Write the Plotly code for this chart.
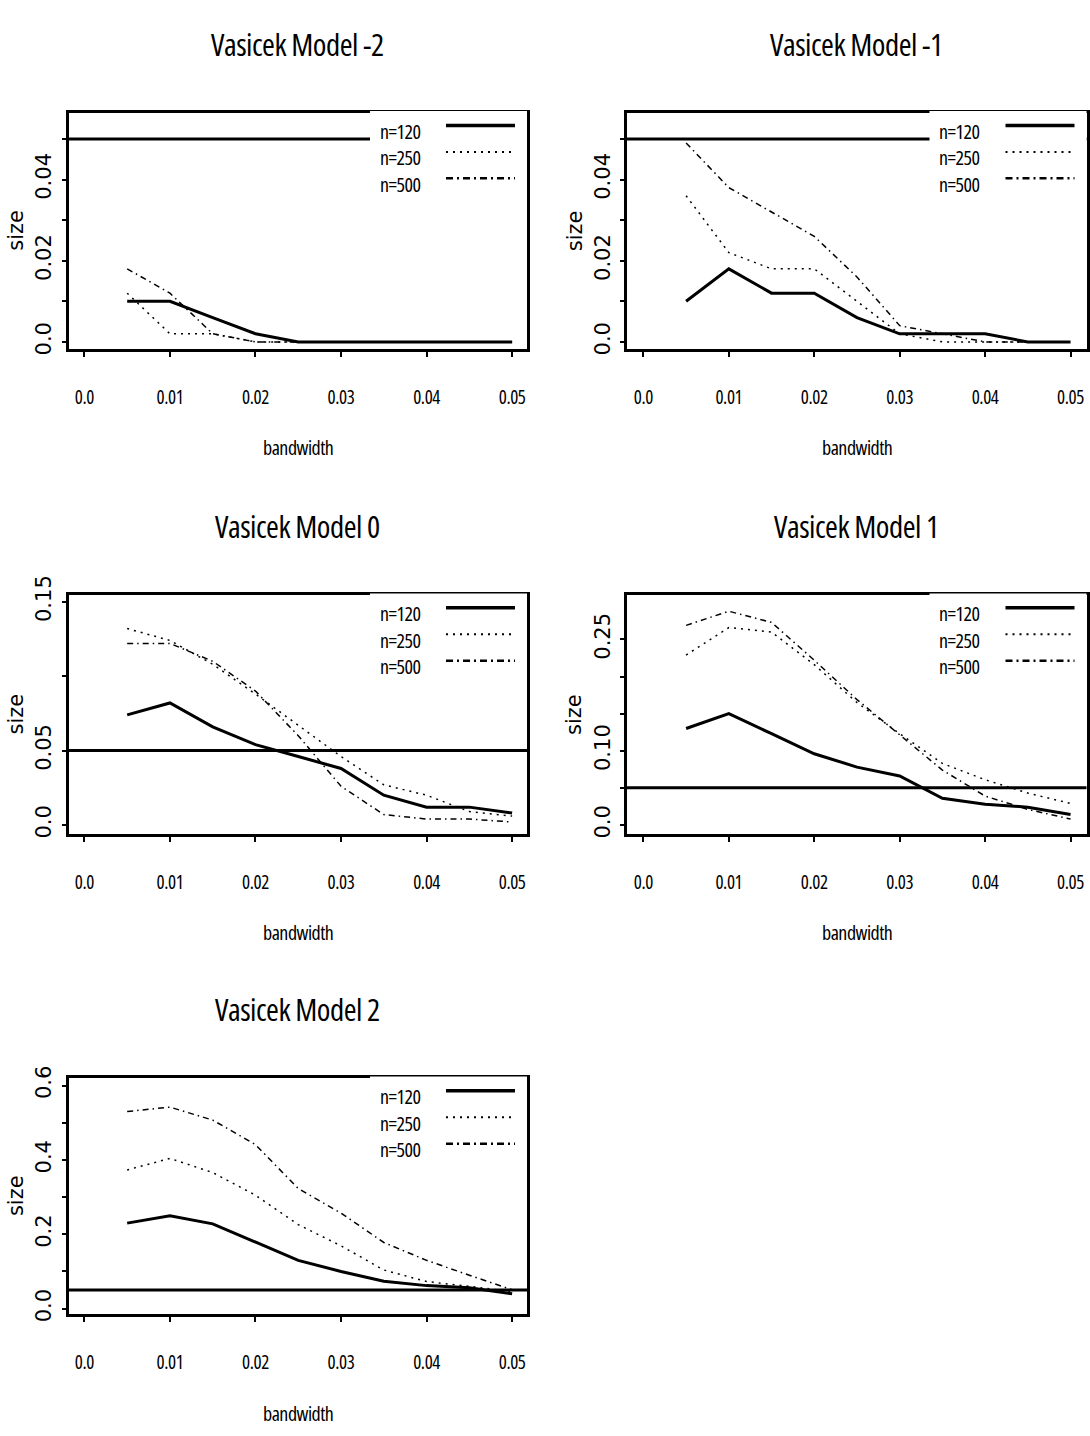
import plotly.graph_objects as go

# ---- data -------------------------------------------------------------
bandwidth = [0.005, 0.010, 0.015, 0.020, 0.025, 0.030, 0.035, 0.040, 0.045, 0.050]
series_labels = ["n=120", "n=250", "n=500"]
panel_titles = ["Vasicek Model -2", "Vasicek Model -1", "Vasicek Model 0",
                "Vasicek Model 1", "Vasicek Model 2"]
nominal_level = 0.05

size_m2_n120 = [0.010, 0.010, 0.006, 0.002, 0.000, 0.000, 0.000, 0.000, 0.000, 0.000]
size_m2_n250 = [0.012, 0.002, 0.002, 0.000, 0.000, 0.000, 0.000, 0.000, 0.000, 0.000]
size_m2_n500 = [0.018, 0.012, 0.002, 0.000, 0.000, 0.000, 0.000, 0.000, 0.000, 0.000]

size_m1_n120 = [0.010, 0.018, 0.012, 0.012, 0.006, 0.002, 0.002, 0.002, 0.000, 0.000]
size_m1_n250 = [0.036, 0.022, 0.018, 0.018, 0.010, 0.002, 0.000, 0.000, 0.000, 0.000]
size_m1_n500 = [0.049, 0.038, 0.032, 0.026, 0.016, 0.004, 0.002, 0.000, 0.000, 0.000]

size_m0_n120 = [0.074, 0.082, 0.066, 0.054, 0.046, 0.038, 0.020, 0.012, 0.012, 0.008]
size_m0_n250 = [0.132, 0.124, 0.108, 0.088, 0.067, 0.046, 0.027, 0.020, 0.009, 0.006]
size_m0_n500 = [0.122, 0.122, 0.110, 0.090, 0.060, 0.026, 0.007, 0.004, 0.004, 0.002]

size_p1_n120 = [0.130, 0.150, 0.123, 0.096, 0.078, 0.066, 0.036, 0.028, 0.024, 0.014]
size_p1_n250 = [0.229, 0.266, 0.260, 0.216, 0.165, 0.123, 0.083, 0.061, 0.043, 0.029]
size_p1_n500 = [0.269, 0.288, 0.273, 0.222, 0.169, 0.121, 0.074, 0.039, 0.021, 0.008]

size_p2_n120 = [0.230, 0.250, 0.228, 0.178, 0.130, 0.100, 0.074, 0.062, 0.056, 0.040]
size_p2_n250 = [0.373, 0.404, 0.366, 0.305, 0.226, 0.169, 0.104, 0.073, 0.060, 0.046]
size_p2_n500 = [0.530, 0.542, 0.507, 0.441, 0.323, 0.257, 0.178, 0.130, 0.090, 0.051]

x_tick_vals = [0.0, 0.01, 0.02, 0.03, 0.04, 0.05]
x_tick_text = ["0.0", "0.01", "0.02", "0.03", "0.04", "0.05"]

y_tick_vals_m2 = [0.0, 0.01, 0.02, 0.03, 0.04, 0.05]
y_tick_text_m2 = ["0.0", "", "0.02", "", "0.04", ""]
y_tick_vals_m1 = [0.0, 0.01, 0.02, 0.03, 0.04, 0.05]
y_tick_text_m1 = ["0.0", "", "0.02", "", "0.04", ""]
y_tick_vals_m0 = [0.0, 0.05, 0.10, 0.15]
y_tick_text_m0 = ["0.0", "0.05", "", "0.15"]
y_tick_vals_p1 = [0.0, 0.05, 0.10, 0.15, 0.20, 0.25]
y_tick_text_p1 = ["0.0", "", "0.10", "", "", "0.25"]
y_tick_vals_p2 = [0.0, 0.1, 0.2, 0.3, 0.4, 0.5, 0.6]
y_tick_text_p2 = ["0.0", "", "0.2", "", "0.4", "", "0.6"]

panel_series = [
    [size_m2_n120, size_m2_n250, size_m2_n500],
    [size_m1_n120, size_m1_n250, size_m1_n500],
    [size_m0_n120, size_m0_n250, size_m0_n500],
    [size_p1_n120, size_p1_n250, size_p1_n500],
    [size_p2_n120, size_p2_n250, size_p2_n500],
]
panel_yticks = [
    (y_tick_vals_m2, y_tick_text_m2),
    (y_tick_vals_m1, y_tick_text_m1),
    (y_tick_vals_m0, y_tick_text_m0),
    (y_tick_vals_p1, y_tick_text_p1),
    (y_tick_vals_p2, y_tick_text_p2),
]

# ---- layout geometry (pixels) -----------------------------------------
W, H = 1090, 1436
LEFT_COL = (68.5, 527.0)
RIGHT_COL = (627.0, 1086.5)
panel_boxes = [
    (LEFT_COL, (94.5, 335.5)),
    (RIGHT_COL, (94.5, 335.5)),
    (LEFT_COL, (586.5, 830.0)),
    (RIGHT_COL, (586.5, 830.0)),
    (LEFT_COL, (1079.0, 1320.0)),
]
x_ranges = [(-0.00186, 0.05174), (-0.00192, 0.05187)] * 2 + [(-0.00186, 0.05174)]
y_ranges = [(-0.00174, 0.05647), (-0.00174, 0.05647), (-0.00593, 0.1545),
            (-0.0119, 0.3098), (-0.0150, 0.6203)]

line_styles = [
    dict(color="black", width=3),
    dict(color="black", width=1.5, dash="2px,5px"),
    dict(color="black", width=1.5, dash="6px,4px,1.5px,4px"),
]
legend_styles = [
    dict(color="black", width=3.5),
    dict(color="black", width=2, dash="2px,5px"),
    dict(color="black", width=2.5, dash="7px,4px,2px,4px"),
]

NARROW = "Open Sans, sans-serif"
WIDE = "DejaVu Sans, Verdana, sans-serif"


def narrow(text, spacing):
    """Set text in the condensed face with slightly tightened letter spacing."""
    if not text:
        return text
    return ('<span style="font-stretch:condensed;letter-spacing:%spx">%s</span>'
            % (spacing, text))


def fx(px):
    return px / W


def fy(py):
    return 1 - py / H


fig = go.Figure()
shapes = []
annotations = []
layout_axes = {}

for i, ((xb, yb), series, (ytv, ytt)) in enumerate(zip(panel_boxes, panel_series, panel_yticks)):
    k = i + 1
    sx = "" if k == 1 else str(k)
    xname, yname = "x" + sx, "y" + sx

    for label, vals, style in zip(series_labels, series, line_styles):
        fig.add_trace(go.Scatter(x=bandwidth, y=vals, mode="lines", name=label,
                                 line=style, xaxis=xname, yaxis=yname,
                                 showlegend=False, hoverinfo="x+y+name"))

    layout_axes["xaxis" + sx] = dict(
        domain=[fx(xb[0]), fx(xb[1])], range=list(x_ranges[i]), anchor=yname,
        tickmode="array", tickvals=x_tick_vals,
        ticktext=[narrow(t, -0.4) for t in x_tick_text],
        ticks="outside", ticklen=5, tickwidth=2, tickcolor="black",
        showline=True, linewidth=3, linecolor="black", mirror=True,
        showgrid=False, zeroline=False, ticklabelstandoff=24,
        tickfont=dict(family=NARROW, size=19, color="black"),
    )
    layout_axes["yaxis" + sx] = dict(
        domain=[fy(yb[1]), fy(yb[0])], range=list(y_ranges[i]), anchor=xname,
        tickmode="array", tickvals=ytv, ticktext=ytt, tickangle=-90,
        ticks="outside", ticklen=4, tickwidth=2, tickcolor="black",
        showline=True, linewidth=3, linecolor="black", mirror=True,
        showgrid=False, zeroline=False, ticklabelstandoff=2,
        tickfont=dict(family=WIDE, size=21, color="black"),
    )

    # nominal level reference line
    shapes.append(dict(type="line", xref=xname + " domain", yref=yname,
                       x0=0, x1=1, y0=nominal_level, y1=nominal_level,
                       line=dict(color="black", width=3), layer="above"))

    # legend box: white fill that also covers the inner half of the top frame
    x_right = xb[1]
    shapes.append(dict(type="rect", xref="paper", yref="paper",
                       x0=fx(x_right - 157), x1=fx(x_right),
                       y0=fy(yb[0] + 92), y1=fy(yb[0] - 1.6),
                       fillcolor="white", line=dict(width=0), layer="above"))
    for j, (label, style) in enumerate(zip(series_labels, legend_styles)):
        ly = yb[0] + 13 + 27 * j
        shapes.append(dict(type="line", xref="paper", yref="paper",
                           x0=fx(x_right - 81), x1=fx(x_right - 12),
                           y0=fy(ly), y1=fy(ly), line=style, layer="above"))
        annotations.append(dict(text=narrow(label, -0.5), xref="paper", yref="paper",
                                x=fx(x_right - 127), y=fy(yb[0] + 19 + 27 * j),
                                xanchor="center", yanchor="middle", showarrow=False,
                                font=dict(family=NARROW, size=20, color="black")))

    cx = (xb[0] + xb[1]) / 2
    annotations.append(dict(text=narrow(panel_titles[i], -0.5), xref="paper",
                            yref="paper", x=fx(cx), y=fy(yb[0] - 70.5),
                            xanchor="center", yanchor="middle", showarrow=False,
                            font=dict(family=NARROW, size=31, color="black")))
    annotations.append(dict(text=narrow("bandwidth", -0.5), xref="paper", yref="paper",
                            x=fx(cx), y=fy(yb[1] + 101), xanchor="center",
                            yanchor="middle", showarrow=False,
                            font=dict(family=NARROW, size=20, color="black")))
    annotations.append(dict(text="size", xref="paper", yref="paper",
                            x=fx(xb[0] - 52.5), y=fy((yb[0] + yb[1]) / 2),
                            xanchor="center", yanchor="middle", textangle=-90,
                            showarrow=False,
                            font=dict(family=WIDE, size=21, color="black")))

fig.update_layout(
    width=W, height=H, margin=dict(l=0, r=0, t=0, b=0),
    paper_bgcolor="white", plot_bgcolor="white", showlegend=False,
    shapes=shapes, annotations=annotations, **layout_axes,
)

fig.write_html("out.html")
